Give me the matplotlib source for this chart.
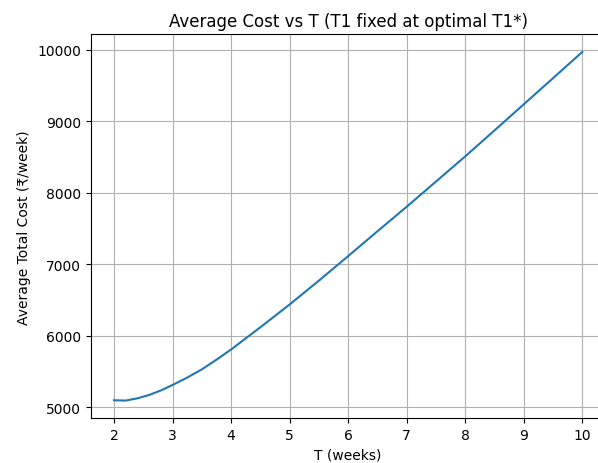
import numpy as np
import matplotlib.pyplot as plt

# T values (weeks) and average total cost
T = [2.0, 2.2, 2.4, 2.6, 2.8, 3.0, 3.25, 3.5, 3.75, 4.0, 4.5, 5.0, 5.5, 6.0, 6.5,
     7.0, 7.5, 8.0, 8.5, 9.0, 9.5, 10.0]
cost = [5098, 5094, 5125, 5172, 5235, 5312, 5415, 5530, 5665, 5808, 6118, 6437, 6770, 7113, 7460,
        7803, 8155, 8507, 8870, 9235, 9600, 9967]

def main():
    fig, ax = plt.subplots(figsize=(5.98, 4.64), dpi=100)
    # the reference is cropped on the right, so the axes run past the figure edge
    fig.subplots_adjust(left=0.1515, right=1.0129, top=0.9235, bottom=0.097)

    ax.plot(T, cost, color='#1f77b4', linewidth=1.5)
    ax.set_title("Average Cost vs T (T1 fixed at optimal T1*)")
    ax.set_xlabel("T (weeks)")
    ax.set_ylabel("Average Total Cost (\u20b9/week)")
    ax.set_xticks(range(2, 11))
    ax.set_yticks(range(5000, 10001, 1000))
    ax.grid(True)

    fig.savefig('out.png', format='png')

main()
